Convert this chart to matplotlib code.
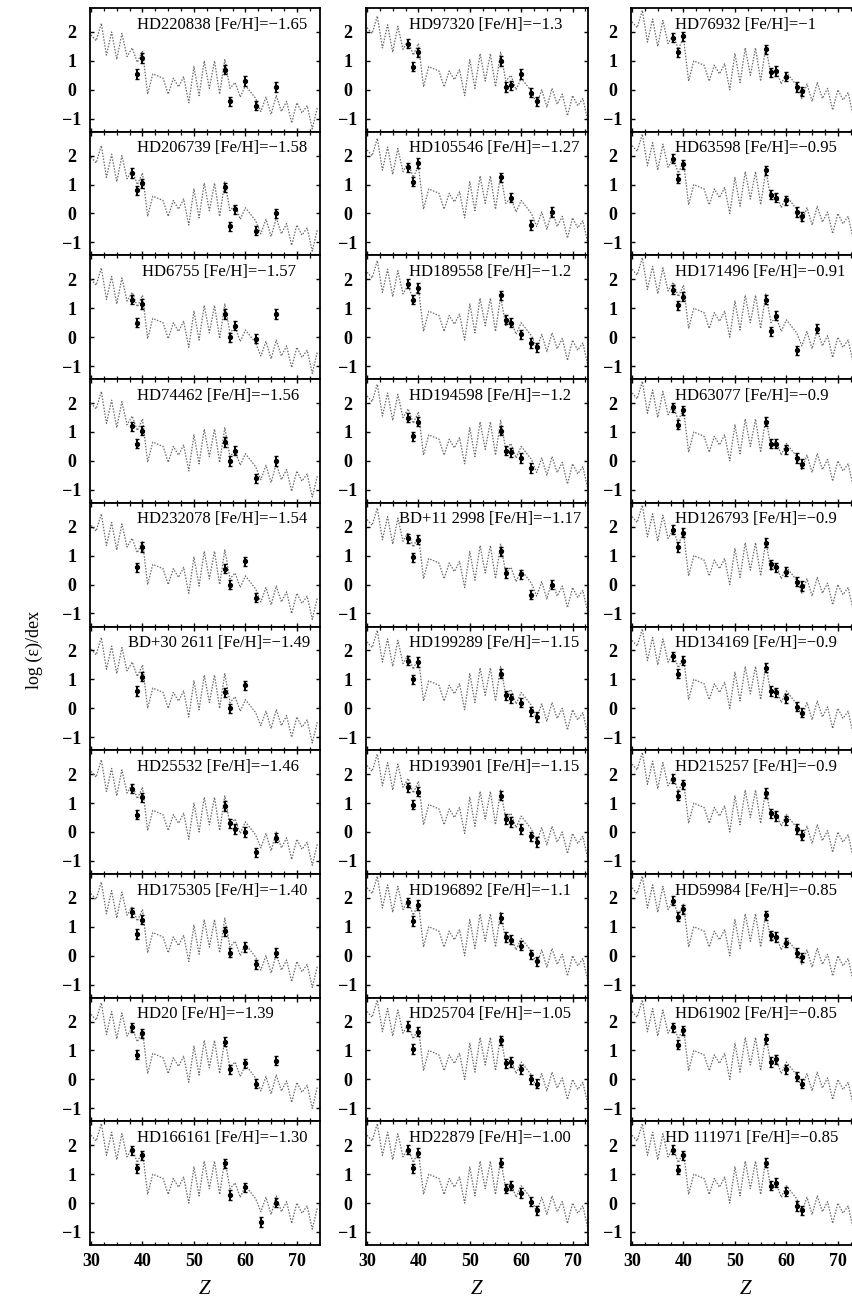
import matplotlib
matplotlib.use("Agg")
import matplotlib.pyplot as plt
import numpy as np
from matplotlib.ticker import MultipleLocator


nan = np.nan

# model abundance pattern (log eps), Tc (43) and Pm (61) absent
modelZ = [30, 31, 32, 33, 34, 35, 36, 37, 38, 39, 40, 41, 42, 44, 45, 46, 47, 48, 49, 50, 51, 52,
          53, 54, 55, 56, 57, 58, 59, 60, 62, 63, 64, 65, 66, 67, 68, 69, 70, 71, 72, 73, 74]
modelBase = [2.35, 2.15, 2.75, 1.65, 2.45, 1.5, 2.4, 1.6, 1.9, 1.4, 1.8, 0.3, 1.0, 0.85, 0.3, 0.85,
             0.55, 0.9, 0.0, 1.25, 0.25, 1.45, 0.5, 1.45, 0.3, 1.5, 0.5, 0.7, 0.2, 0.6, 0.15, -0.3,
             0.2, -0.4, 0.25, -0.3, 0.05, -0.7, 0.0, -0.35, -0.1, -0.9, -0.15]

obsZ = [38, 39, 40, 56, 57, 58, 60, 62, 63, 66]
obsErr = 0.16

# column 1
starsCol1 = ["HD220838", "HD206739", "HD6755", "HD74462", "HD232078",
             "BD+30 2611", "HD25532", "HD175305", "HD20", "HD166161"]
fehCol1 = ["\u22121.65", "\u22121.58", "\u22121.57", "\u22121.56", "\u22121.54",
           "\u22121.49", "\u22121.46", "\u22121.40", "\u22121.39", "\u22121.30"]
shiftCol1 = [-0.45, -0.4, -0.35, -0.35, -0.3, -0.3, -0.25, -0.2, -0.1, 0.0]
obsCol1 = [
    [nan, 0.55, 1.1, 0.7, -0.4, nan, 0.3, -0.55, nan, 0.1],
    [1.4, 0.8, 1.05, 0.9, -0.45, 0.15, nan, -0.6, nan, 0.0],
    [1.3, 0.5, 1.15, 0.8, 0.0, 0.4, nan, -0.05, nan, 0.8],
    [1.2, 0.6, 1.05, 0.65, 0.0, 0.35, nan, -0.6, nan, 0.0],
    [nan, 0.6, 1.3, 0.55, 0.0, nan, 0.8, -0.45, nan, nan],
    [nan, 0.6, 1.1, 0.55, 0.0, nan, 0.8, nan, nan, nan],
    [1.5, 0.6, 1.2, 0.9, 0.3, 0.1, 0.0, -0.7, nan, -0.2],
    [1.5, 0.75, 1.25, 0.85, 0.1, nan, 0.3, -0.3, nan, 0.1],
    [1.8, 0.85, 1.6, 1.3, 0.35, nan, 0.55, -0.15, nan, 0.65],
    [1.83, 1.2, 1.65, 1.38, 0.28, nan, 0.55, nan, -0.65, 0.02],
]

# column 2
starsCol2 = ["HD97320", "HD105546", "HD189558", "HD194598", "BD+11 2998",
             "HD199289", "HD193901", "HD196892", "HD25704", "HD22879"]
fehCol2 = ["\u22121.3", "\u22121.27", "\u22121.2", "\u22121.2", "\u22121.17",
           "\u22121.15", "\u22121.15", "\u22121.1", "\u22121.05", "\u22121.00"]
shiftCol2 = [-0.2, -0.15, -0.1, -0.1, -0.1, -0.05, -0.05, 0.0, 0.0, 0.0]
obsCol2 = [
    [1.6, 0.8, 1.3, 1.0, 0.1, 0.15, 0.55, -0.1, -0.4, nan],
    [1.6, 1.1, 1.75, 1.25, nan, 0.55, nan, -0.4, nan, 0.05],
    [1.85, 1.3, 1.7, 1.45, 0.6, 0.5, 0.1, -0.2, -0.35, nan],
    [1.5, 0.85, 1.35, 1.05, 0.35, 0.3, 0.1, -0.25, nan, nan],
    [1.6, 0.95, 1.55, 1.15, 0.4, nan, 0.35, -0.35, nan, 0.0],
    [1.65, 1.0, 1.6, 1.2, 0.45, 0.35, 0.2, -0.1, -0.3, nan],
    [1.55, 0.95, 1.4, 1.25, 0.45, 0.35, 0.1, -0.15, -0.35, nan],
    [1.85, 1.2, 1.75, 1.3, 0.65, 0.55, 0.35, 0.05, -0.2, nan],
    [1.85, 1.05, 1.65, 1.35, 0.55, 0.6, 0.35, 0.0, -0.15, nan],
    [1.85, 1.2, 1.75, 1.4, 0.5, 0.6, 0.35, 0.05, -0.25, nan],
]

# column 3
starsCol3 = ["HD76932", "HD63598", "HD171496", "HD63077", "HD126793",
             "HD134169", "HD215257", "HD59984", "HD61902", "HD 111971"]
fehCol3 = ["\u22121", "\u22120.95", "\u22120.91", "\u22120.9", "\u22120.9",
           "\u22120.9", "\u22120.9", "\u22120.85", "\u22120.85", "\u22120.85"]
shiftCol3 = [0.0, 0.0, 0.0, 0.0, 0.0, 0.0, 0.0, 0.0, 0.0, 0.0]
obsCol3 = [
    [1.8, 1.3, 1.85, 1.4, 0.6, 0.65, 0.45, 0.1, -0.05, nan],
    [1.9, 1.2, 1.7, 1.5, 0.65, 0.55, 0.45, 0.05, -0.1, nan],
    [1.65, 1.1, 1.4, 1.3, 0.2, 0.75, nan, -0.45, nan, 0.3],
    [1.85, 1.25, 1.75, 1.35, 0.6, 0.6, 0.4, 0.1, -0.1, nan],
    [1.9, 1.3, 1.8, 1.45, 0.7, 0.6, 0.45, 0.1, -0.05, nan],
    [1.8, 1.2, 1.65, 1.4, 0.6, 0.55, 0.35, 0.05, -0.15, nan],
    [1.85, 1.25, 1.65, 1.35, 0.65, 0.55, 0.4, 0.1, -0.1, nan],
    [1.9, 1.35, 1.6, 1.4, 0.7, 0.65, 0.45, 0.1, -0.05, nan],
    [1.8, 1.2, 1.7, 1.4, 0.6, 0.7, 0.35, 0.1, -0.15, nan],
    [1.85, 1.15, 1.65, 1.4, 0.6, 0.7, 0.4, -0.1, -0.25, nan],
]

columns = [
    (starsCol1, fehCol1, shiftCol1, obsCol1),
    (starsCol2, fehCol2, shiftCol2, obsCol2),
    (starsCol3, fehCol3, shiftCol3, obsCol3),
]

# layout in pixels of the 853x1301 canvas
figW, figH = 853, 1301
colLeft = [90, 366, 631]
colWidth = [230, 222, 230]
colXmax = [74.5, 73.0, 74.5]
titleX = [0.205, 0.195, 0.19]
# longer names sit further left in the original
titleXOverride = {"BD+30 2611": 0.165, "BD+11 2998": 0.15, "HD 111971": 0.15, "HD6755": 0.225}
rowTop = 8
rowHeight = 123.7

plt.rcParams["font.family"] = ["Liberation Serif", "DejaVu Serif"]

fig = plt.figure(figsize = (figW / 100, figH / 100), dpi = 100, facecolor = "white")

modelZ = np.array(modelZ)
modelBase = np.array(modelBase)

for c, (stars, fehs, shifts, obs) in enumerate(columns):
    for r in range(len(stars)):
        top = rowTop + r * rowHeight
        ax = fig.add_axes([colLeft[c] / figW, 1 - (top + rowHeight) / figH,
                           colWidth[c] / figW, rowHeight / figH])

        ax.plot(modelZ, modelBase + shifts[r], color = "#6a6a6a", linewidth = 0.9,
                linestyle = (0, (1.2, 1.2)), zorder = 2)

        values = np.array(obs[r], dtype = float)
        mask = ~np.isnan(values)
        ax.errorbar(np.array(obsZ)[mask], values[mask], yerr = obsErr, fmt = "o",
                    color = "black", markersize = 2.8, elinewidth = 1.4, capsize = 1.6,
                    capthick = 1.0, zorder = 3)

        tx = titleXOverride.get(stars[r], titleX[c])
        ax.text(tx, 0.93, f"{stars[r]} [Fe/H]={fehs[r]}", transform = ax.transAxes,
                ha = "left", va = "top", fontsize = 12, color = "black")

        ax.set_xlim(29.8, colXmax[c])
        ax.set_ylim(-1.45, 2.83)
        ax.xaxis.set_major_locator(MultipleLocator(10))
        ax.xaxis.set_minor_locator(MultipleLocator(2.5))
        ax.yaxis.set_major_locator(MultipleLocator(1))
        ax.tick_params(axis = "both", which = "both", direction = "in", top = True, right = True)
        ax.tick_params(which = "major", length = 3, width = 1.0)
        ax.tick_params(which = "minor", length = 2.5, width = 0.9)
        ax.tick_params(axis = "y", labelsize = 13, pad = 13)
        ax.tick_params(axis = "x", labelsize = 13, pad = 6)
        for label in ax.get_yticklabels():
            label.set_fontweight("bold")
            label.set_horizontalalignment("center")

        if r < len(stars) - 1:
            ax.tick_params(axis = "x", labelbottom = False)
        else:
            for label in ax.get_xticklabels():
                label.set_fontweight("bold")
            ax.set_xlabel("Z", fontsize = 15, fontstyle = "italic", labelpad = 7)

        for spine in ax.spines.values():
            spine.set_linewidth(1.3)
            spine.set_color("black")

fig.text(34 / figW, 1 - 650 / figH, "log (\u03b5)/dex", rotation = 90, ha = "center",
         va = "center", fontsize = 13)

fig.savefig("out.png", dpi = 100, facecolor = "white")
plt.close(fig)
